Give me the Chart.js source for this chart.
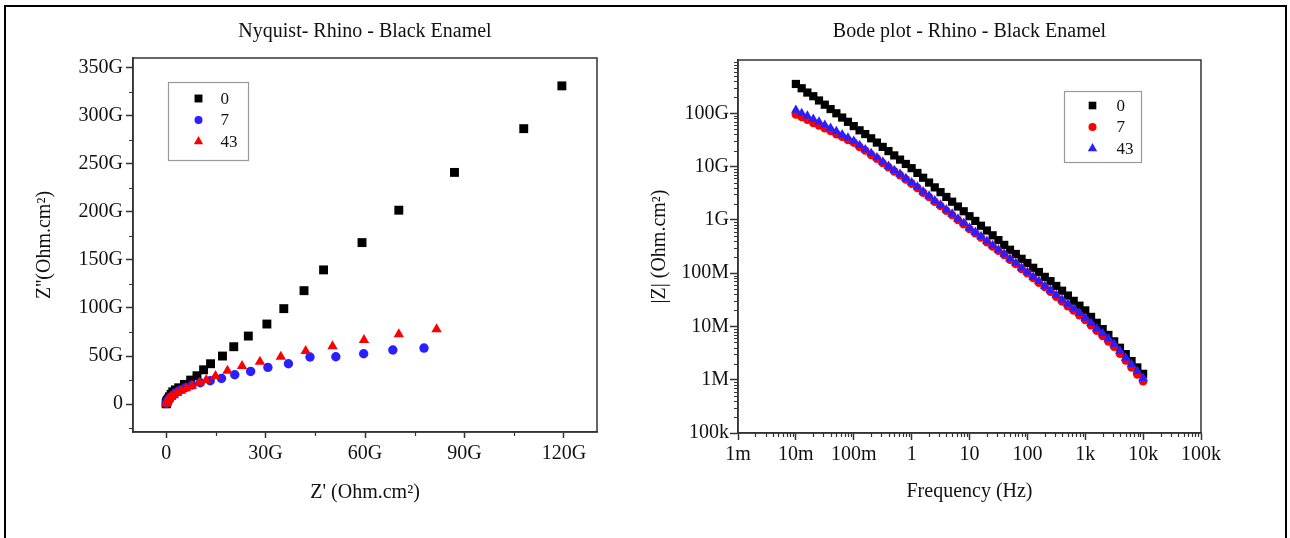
<!DOCTYPE html>
<html>
<head>
<meta charset="utf-8">
<script src="https://cdn.jsdelivr.net/npm/chart.js@4.4.1/dist/chart.umd.min.js"></script>
<style>
  html, body { margin: 0; padding: 0; background: #fff; }
  body { width: 1290px; height: 538px; position: relative; overflow: hidden; }
  .frame { position: absolute; left: 4px; top: 5px; width: 1279px; height: 600px;
           border: 2px solid #000; border-bottom: none; }
  .panel { position: absolute; top: 0; height: 538px; }
  #nyqBox { left: 0; width: 640px; }
  #bodeBox { left: 640px; width: 650px; }
</style>
</head>
<body>
<div class="frame"></div>
<div class="panel" id="nyqBox"><canvas id="nyqChart"></canvas></div>
<div class="panel" id="bodeBox"><canvas id="bodeChart"></canvas></div>

<script>
// =======================
// DATA
// =======================
const seriesLabels = ["0", "7", "43"];

// Nyquist, values in G(Ohm.cm2), low frequency first
const nyqX0 = [119.4, 107.9, 87.0, 70.2, 59.1, 47.5, 41.6, 35.5, 30.4, 24.8, 20.4, 17.0, 13.4, 11.3, 9.3, 7.4, 5.5,
               3.8, 2.8, 2.0, 1.5, 1.0, 0.6, 0.35, 0.2, 0.1, 0.05, 0.02];
const nyqY0 = [331, 286.5, 241, 201.7, 168, 139.6, 118, 99.3, 83.3, 70.8, 59.7, 50.0, 42.0, 35.7, 29.5, 25.0, 20.5,
               17.0, 14.8, 12.8, 10.2, 7.6, 5.4, 3.8, 2.5, 1.5, 0.8, 0.3];

const nyqX7 = [77.8, 68.4, 59.6, 51.2, 43.4, 36.9, 30.7, 25.5, 20.7, 16.7, 13.3, 10.3, 7.8, 5.8, 4.2, 3.0, 2.1,
               1.4, 0.9, 0.5, 0.3, 0.15, 0.05];
const nyqY7 = [58.3, 56.3, 52.4, 49.3, 49.0, 42.0, 38.2, 34.0, 30.5, 26.7, 24.3, 22.2, 19.8, 17.0, 14.5, 12.0, 9.5,
               7.5, 5.5, 3.8, 2.5, 1.5, 0.6];

const nyqX43 = [81.6, 70.2, 59.7, 50.2, 42.1, 34.6, 28.3, 22.9, 18.5, 14.9, 12.1, 10.0, 7.8, 6.0, 4.5, 3.3, 2.3,
                1.5, 0.9, 0.5, 0.25, 0.1, 0.03];
const nyqY43 = [77.8, 72.6, 66.7, 60.1, 55.2, 49.3, 44.1, 39.6, 34.7, 29.2, 25.0, 22.2, 19.0, 16.5, 14.0, 11.5, 9.3,
                7.3, 5.5, 3.9, 2.6, 1.5, 0.6];

const nyqXTicks = [0, 30, 60, 90, 120];
const nyqXLabels = ["0", "30G", "60G", "90G", "120G"];
const nyqYTicks = [0, 50, 100, 150, 200, 250, 300, 350];
const nyqYLabels = ["0", "50G", "100G", "150G", "200G", "250G", "300G", "350G"];

// Bode, frequency in Hz, |Z| in Ohm.cm2
const freq = [0.01, 0.0126, 0.0158, 0.02, 0.0251, 0.0316, 0.0398, 0.0501, 0.0631, 0.0794,
              0.1, 0.126, 0.158, 0.2, 0.251, 0.316, 0.398, 0.501, 0.631, 0.794,
              1, 1.26, 1.58, 2, 2.51, 3.16, 3.98, 5.01, 6.31, 7.94,
              10, 12.6, 15.8, 20, 25.1, 31.6, 39.8, 50.1, 63.1, 79.4,
              100, 126, 158, 200, 251, 316, 398, 501, 631, 794,
              1000, 1260, 1580, 2000, 2510, 3160, 3980, 5010, 6310, 7940, 10000];

const bodeZ0 = [3.55e11, 2.95e11, 2.45e11, 2.09e11, 1.74e11, 1.45e11, 1.20e11, 1.00e11, 8.32e10, 6.92e10,
                5.75e10, 4.79e10, 4.07e10, 3.39e10, 2.82e10, 2.34e10, 1.95e10, 1.62e10, 1.35e10, 1.12e10,
                9.33e9, 7.59e9, 6.17e9, 5.01e9, 4.07e9, 3.31e9, 2.69e9, 2.19e9, 1.78e9, 1.45e9,
                1.17e9, 9.55e8, 7.76e8, 6.31e8, 5.13e8, 4.17e8, 3.39e8, 2.75e8, 2.29e8, 1.86e8,
                1.55e8, 1.26e8, 1.05e8, 8.51e7, 7.08e7, 5.75e7, 4.68e7, 3.80e7, 3.02e7, 2.45e7,
                2.00e7, 1.51e7, 1.17e7, 8.91e6, 6.92e6, 5.25e6, 3.98e6, 3.02e6, 2.24e6, 1.70e6, 1.29e6];

const bodeZ7 = [9.55e10, 8.51e10, 7.59e10, 6.61e10, 5.89e10, 5.25e10, 4.68e10, 4.07e10, 3.63e10, 3.16e10,
                2.82e10, 2.34e10, 2.00e10, 1.66e10, 1.41e10, 1.17e10, 9.77e9, 8.13e9, 6.92e9, 5.75e9,
                4.79e9, 3.98e9, 3.24e9, 2.69e9, 2.19e9, 1.82e9, 1.48e9, 1.23e9, 1.00e9, 8.32e8,
                6.76e8, 5.62e8, 4.68e8, 3.80e8, 3.16e8, 2.63e8, 2.19e8, 1.78e8, 1.48e8, 1.20e8,
                1.00e8, 8.13e7, 6.61e7, 5.50e7, 4.47e7, 3.63e7, 2.95e7, 2.40e7, 2.00e7, 1.62e7,
                1.32e7, 1.05e7, 8.32e6, 6.61e6, 5.25e6, 4.17e6, 3.09e6, 2.29e6, 1.70e6, 1.26e6, 9.33e5];

const bodeZ43 = [1.15e11, 1.00e11, 8.91e10, 7.76e10, 6.92e10, 6.03e10, 5.25e10, 4.57e10, 3.98e10, 3.47e10,
                 3.02e10, 2.51e10, 2.09e10, 1.78e10, 1.48e10, 1.23e10, 1.02e10, 8.51e9, 7.24e9, 6.03e9,
                 5.01e9, 4.17e9, 3.39e9, 2.82e9, 2.29e9, 1.91e9, 1.55e9, 1.29e9, 1.05e9, 8.71e8,
                 7.08e8, 5.89e8, 4.90e8, 3.98e8, 3.31e8, 2.75e8, 2.29e8, 1.86e8, 1.55e8, 1.26e8,
                 1.05e8, 8.51e7, 7.08e7, 5.75e7, 4.79e7, 3.89e7, 3.16e7, 2.63e7, 2.14e7, 1.78e7,
                 1.45e7, 1.15e7, 9.12e6, 7.41e6, 5.89e6, 4.68e6, 3.47e6, 2.57e6, 1.95e6, 1.45e6, 1.07e6];

const bodeXTicks = [1e-3, 1e-2, 1e-1, 1, 10, 100, 1e3, 1e4, 1e5];
const bodeXLabels = ["1m", "10m", "100m", "1", "10", "100", "1k", "10k", "100k"];
const bodeYTicks = [1e5, 1e6, 1e7, 1e8, 1e9, 1e10, 1e11];
const bodeYLabels = ["100k", "1M", "10M", "100M", "1G", "10G", "100G"];

// =======================
// HELPERS
// =======================
const SERIF = "'Liberation Serif', 'Times New Roman', serif";
const INK = "#111";
const AXIS = "#333";
const BLUE = "#2a1fff";
const RED = "#ff0000";

Chart.defaults.font.family = SERIF;
Chart.defaults.color = INK;

function toPoints(xs, ys) {
  return xs.map((x, i) => ({ x, y: ys[i] }));
}

function drawMarker(ctx, style, x, y, r) {
  ctx.beginPath();
  if (style === "rect") {
    const h = r * Math.SQRT1_2;
    ctx.rect(x - h, y - h, 2 * h, 2 * h);
  } else if (style === "circle") {
    ctx.arc(x, y, r, 0, Math.PI * 2);
  } else {
    const s = Math.sin(Math.PI / 3) * r;
    ctx.moveTo(x, y - r);
    ctx.lineTo(x + s, y + r / 2);
    ctx.lineTo(x - s, y + r / 2);
    ctx.closePath();
  }
  ctx.fill();
}

// minor tick values between the major ones
function minorValues(scale) {
  const out = [];
  if (scale.type === "logarithmic") {
    const d0 = Math.floor(Math.log10(scale.min));
    const d1 = Math.ceil(Math.log10(scale.max));
    for (let d = d0; d < d1; d++) {
      for (let m = 2; m < 10; m++) {
        const v = m * Math.pow(10, d);
        if (v > scale.min && v < scale.max) out.push(v);
      }
    }
  } else {
    const step = (scale.ticks[1].value - scale.ticks[0].value) / 2;
    for (let v = Math.ceil(scale.min / step) * step; v <= scale.max; v += step) {
      const major = Math.round(v / (2 * step)) * 2 * step;
      if (Math.abs(major - v) > 1e-9) out.push(v);
    }
  }
  return out;
}

// box round the plot + minor ticks
const frameTicks = {
  id: "frameTicks",
  afterDraw(chart, args, opts) {
    const { ctx, chartArea: a } = chart;
    const xs = chart.scales.x, ys = chart.scales.y;
    ctx.save();
    ctx.strokeStyle = AXIS;
    ctx.lineWidth = 1.5;
    ctx.strokeRect(a.left, a.top, a.right - a.left, a.bottom - a.top);
    ctx.beginPath();
    minorValues(xs).forEach(v => {
      const p = Math.round(xs.getPixelForValue(v)) + 0.5;
      ctx.moveTo(p, a.bottom);
      ctx.lineTo(p, a.bottom + opts.minorLen);
    });
    minorValues(ys).forEach(v => {
      const p = Math.round(ys.getPixelForValue(v)) + 0.5;
      ctx.moveTo(a.left, p);
      ctx.lineTo(a.left - opts.minorLen, p);
    });
    ctx.lineWidth = 1.2;
    ctx.stroke();
    ctx.restore();
  }
};

// legend box inside the plot
const boxLegend = {
  id: "boxLegend",
  afterDraw(chart, args, opts) {
    const { ctx, chartArea: a } = chart;
    const x0 = Math.round(a.left + opts.dx) + 0.5;
    const y0 = Math.round(a.top + opts.dy) + 0.5;
    ctx.save();
    ctx.fillStyle = "#fff";
    ctx.fillRect(x0, y0, opts.w, opts.h);
    ctx.strokeStyle = "#9a9a9a";
    ctx.lineWidth = 1.2;
    ctx.strokeRect(x0, y0, opts.w, opts.h);
    ctx.font = "17px " + SERIF;
    ctx.textBaseline = "middle";
    chart.data.datasets.forEach((ds, i) => {
      const cy = y0 + opts.rowTop + i * opts.rowGap;
      ctx.fillStyle = ds.backgroundColor;
      drawMarker(ctx, ds.pointStyle, x0 + opts.markX, cy, opts.sizes[i]);
      ctx.fillStyle = INK;
      ctx.fillText(ds.label, x0 + opts.textX, cy + 1);
    });
    ctx.restore();
  }
};

function axisCommon(tickLen, pad) {
  return {
    grid: { display: true, drawOnChartArea: false, drawTicks: true, tickLength: tickLen,
            tickColor: AXIS, tickWidth: 1.5 },
    border: { display: true, color: AXIS, width: 1.5 },
    ticks: { font: { size: 20 }, color: INK, padding: pad, autoSkip: false, maxRotation: 0 }
  };
}

// =======================
// NYQUIST
// =======================
const nyqStyles = ["rect", "circle", "triangle"];
const nyqColors = ["#000000", BLUE, RED];
const nyqRadius = [6.3, 4.7, 6.0];
const nyqData = [toPoints(nyqX0, nyqY0), toPoints(nyqX7, nyqY7), toPoints(nyqX43, nyqY43)];

const nyqX = axisCommon(6, 4);
const nyqY = axisCommon(7, 3);

new Chart(document.getElementById("nyqChart"), {
  type: "scatter",
  data: {
    datasets: nyqData.map((data, i) => ({
      label: seriesLabels[i],
      data,
      pointStyle: nyqStyles[i],
      backgroundColor: nyqColors[i],
      borderColor: nyqColors[i],
      pointRadius: nyqRadius[i],
      pointBorderWidth: 0,
      order: 2 - i
    }))
  },
  options: {
    responsive: true,
    maintainAspectRatio: false,
    animation: false,
    events: [],
    layout: { padding: { left: 22, right: 43, top: 0, bottom: 0 } },
    plugins: {
      legend: { display: false },
      tooltip: { enabled: false },
      title: {
        display: true, fullSize: false,
        text: "Nyquist- Rhino - Black Enamel",
        font: { size: 20, weight: "normal" }, color: INK,
        padding: { top: 20, bottom: 14 }
      },
      frameTicks: { minorLen: 4 },
      boxLegend: { dx: 35, dy: 24, w: 80, h: 78, markX: 30, textX: 52, rowTop: 16, rowGap: 21.5,
                   sizes: [5.6, 4.0, 5.4] }
    },
    scales: {
      x: {
        type: "linear", min: -10, max: 130, ...nyqX,
        ticks: { ...nyqX.ticks, callback: (v, i) => nyqXLabels[i] },
        afterBuildTicks: s => { s.ticks = nyqXTicks.map(value => ({ value })); },
        afterFit: s => { s.height = 106; },
        title: { display: true, text: "Z' (Ohm.cm²)", font: { size: 20 }, color: INK,
                 padding: { top: 0, bottom: 33 } }
      },
      y: {
        type: "linear", min: -29, max: 360, ...nyqY,
        ticks: { ...nyqY.ticks, callback: (v, i) => nyqYLabels[i] },
        afterBuildTicks: s => { s.ticks = nyqYTicks.map(value => ({ value })); },
        afterFit: s => { s.width = 111; },
        title: { display: true, text: "Z''(Ohm.cm²)", font: { size: 20 }, color: INK,
                 padding: { top: 11, bottom: 0 } }
      }
    }
  },
  plugins: [frameTicks, boxLegend]
});

// =======================
// BODE
// =======================
const bodeStyles = ["rect", "circle", "triangle"];
const bodeColors = ["#000000", RED, BLUE];
const bodeRadius = [5.8, 4.3, 5.6];
const bodeData = [toPoints(freq, bodeZ0), toPoints(freq, bodeZ7), toPoints(freq, bodeZ43)];

const bodeX = axisCommon(7, 3);
const bodeY = axisCommon(8, 1);

new Chart(document.getElementById("bodeChart"), {
  type: "scatter",
  data: {
    datasets: bodeData.map((data, i) => ({
      label: seriesLabels[i],
      data,
      pointStyle: bodeStyles[i],
      backgroundColor: bodeColors[i],
      borderColor: bodeColors[i],
      pointRadius: bodeRadius[i],
      pointBorderWidth: 0,
      order: 2 - i
    }))
  },
  options: {
    responsive: true,
    maintainAspectRatio: false,
    animation: false,
    events: [],
    layout: { padding: { left: 0, right: 89, top: 0, bottom: 0 } },
    plugins: {
      legend: { display: false },
      tooltip: { enabled: false },
      title: {
        display: true, fullSize: false,
        text: "Bode plot - Rhino - Black Enamel",
        font: { size: 20, weight: "normal" }, color: INK,
        padding: { top: 20, bottom: 16 }
      },
      frameTicks: { minorLen: 4 },
      boxLegend: { dx: 326, dy: 31, w: 77, h: 71, markX: 28, textX: 52, rowTop: 14, rowGap: 21.5,
                   sizes: [5.4, 4.0, 5.4] }
    },
    scales: {
      x: {
        type: "logarithmic", min: 1e-3, max: 1e5, ...bodeX,
        ticks: { ...bodeX.ticks, callback: (v, i) => bodeXLabels[i] },
        afterBuildTicks: s => { s.ticks = bodeXTicks.map(value => ({ value })); },
        afterFit: s => { s.height = 105; },
        title: { display: true, text: "Frequency (Hz)", font: { size: 20 }, color: INK,
                 padding: { top: 0, bottom: 34 } }
      },
      y: {
        type: "logarithmic", min: 1e5, max: 1e12, ...bodeY,
        ticks: { ...bodeY.ticks, callback: (v, i) => bodeYLabels[i] },
        afterBuildTicks: s => { s.ticks = bodeYTicks.map(value => ({ value })); },
        afterFit: s => { s.width = 98; },
        title: { display: true, text: "|Z| (Ohm.cm²)", font: { size: 20 }, color: INK,
                 padding: { top: 8, bottom: 0 } }
      }
    }
  },
  plugins: [frameTicks, boxLegend]
});
</script>
</body>
</html>
